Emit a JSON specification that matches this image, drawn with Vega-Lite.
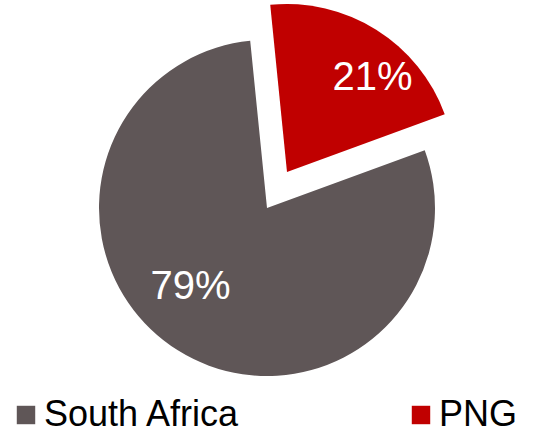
{
  "$schema": "https://vega.github.io/schema/vega-lite/v6.json",
  "width": 534,
  "height": 416,
  "padding": {"left": 0, "top": 0, "right": 14, "bottom": 16},
  "autosize": {"type": "none"},
  "background": "white",
  "config": {"view": {"stroke": null}, "font": "Liberation Sans"},
  "data": {"values": [
    {"country": "PNG", "share": 21},
    {"country": "South Africa", "share": 79}
  ]},
  "transform": [
    {"stack": "share", "groupby": [], "sort": [{"field": "country", "order": "ascending"}], "as": ["s0", "s1"]}
  ],
  "encoding": {
    "theta": {"field": "s0", "type": "quantitative", "scale": {"domain": [0, 100], "range": [-0.1, 6.183]}},
    "color": {
      "field": "country", "type": "nominal",
      "scale": {"domain": ["South Africa", "PNG"], "range": ["#5F5657", "#C00000"]},
      "legend": {
        "title": null, "orient": "none", "legendX": 8, "legendY": 397,
        "direction": "horizontal", "symbolType": "square", "symbolSize": 340,
        "symbolStrokeWidth": 0, "symbolOpacity": 1,
        "labelFont": "Liberation Sans", "labelFontSize": 36, "labelColor": "#000000",
        "labelOffset": 0, "columnPadding": 162, "labelLimit": 400
      }
    }
  },
  "layer": [
    {
      "transform": [{"filter": "datum.country == 'South Africa'"}],
      "mark": {"type": "arc", "outerRadius": 168},
      "encoding": {"theta2": {"field": "s1"}}
    },
    {
      "transform": [{"filter": "datum.country == 'PNG'"}],
      "mark": {"type": "arc", "outerRadius": 168, "xOffset": 20, "yOffset": -36},
      "encoding": {"theta2": {"field": "s1"}}
    },
    {
      "transform": [{"filter": "datum.country == 'South Africa'"}],
      "mark": {"type": "text", "radius": 110, "thetaOffset": 2.69, "fontSize": 40, "font": "Liberation Sans"},
      "encoding": {"text": {"value": "79%"}, "color": {"value": "white"}}
    },
    {
      "transform": [{"filter": "datum.country == 'PNG'"}],
      "mark": {"type": "text", "radius": 127, "thetaOffset": 0.84, "xOffset": 20, "yOffset": -36, "fontSize": 40, "font": "Liberation Sans"},
      "encoding": {"text": {"value": "21%"}, "color": {"value": "white"}}
    }
  ]
}
